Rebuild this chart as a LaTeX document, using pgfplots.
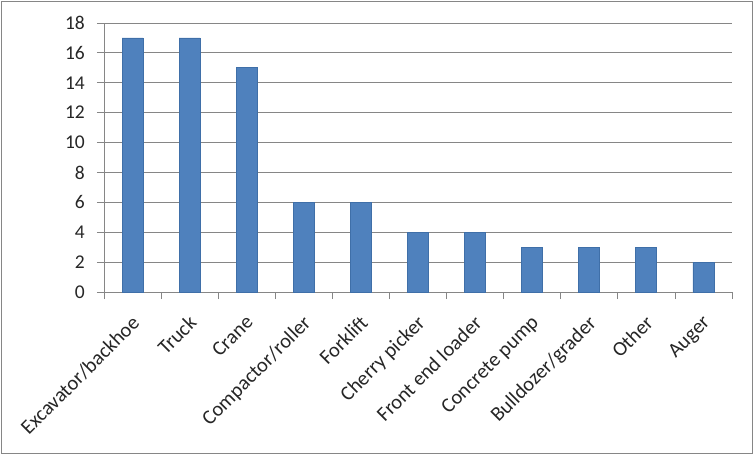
\documentclass[border=0pt]{standalone}
\usepackage{pgfplots}
\pgfplotsset{compat=1.18}
\usepackage{fontspec}
\setmainfont{Carlito}
\definecolor{barfill}{HTML}{4F81BD}
\definecolor{baredge}{HTML}{3F6FA8}
\definecolor{gridc}{HTML}{868686}
\begin{document}
\begin{tikzpicture}
\useasboundingbox (0,0) rectangle (754bp,456bp);
\draw[gridc, line width=1bp] (1bp,2bp) rectangle (752.5bp,454.5bp);
\begin{axis}[
  at={(104bp,164bp)}, anchor=south west,
  scale only axis, width=628bp, height=269bp,
  xmin=-0.5, xmax=10.5, ymin=0, ymax=18,
  axis x line*=bottom, axis y line*=left,
  axis line style={gridc, line width=0.8bp},
  ytick={0,2,...,18},
  ymajorgrids, grid style={gridc, line width=0.8bp},
  tick align=outside, major tick length=7bp,
  tick style={gridc, line width=0.8bp},
  xtick={-0.5,0.5,...,10.5}, xticklabels={},
  extra x ticks={0,1,2,3,4,5,6,7,8,9,10},
  extra x tick labels={Excavator/backhoe,Truck,Crane,Compactor/roller,Forklift,Cherry picker,Front end loader,Concrete pump,Bulldozer/grader,Other,Auger},
  extra x tick style={tick style={draw=none}, xticklabel style={xshift=-2bp, yshift=-15bp, rotate=45, anchor=north east, inner sep=0pt, font=\fontsize{20.5bp}{22bp}\selectfont, text=black!85}},
  yticklabel style={font=\fontsize{19.5bp}{21bp}\selectfont, text=black!85, inner sep=0pt, xshift=-12bp},
  /pgf/number format/assume math mode=true,
  clip=false,
]
\addplot[ybar, bar width=21bp, fill=barfill, draw=baredge, line width=0.8bp] coordinates {
(0,17) (1,17) (2,15) (3,6) (4,6) (5,4) (6,4) (7,3) (8,3) (9,3) (10,2)
};
\end{axis}
\end{tikzpicture}
\end{document}
